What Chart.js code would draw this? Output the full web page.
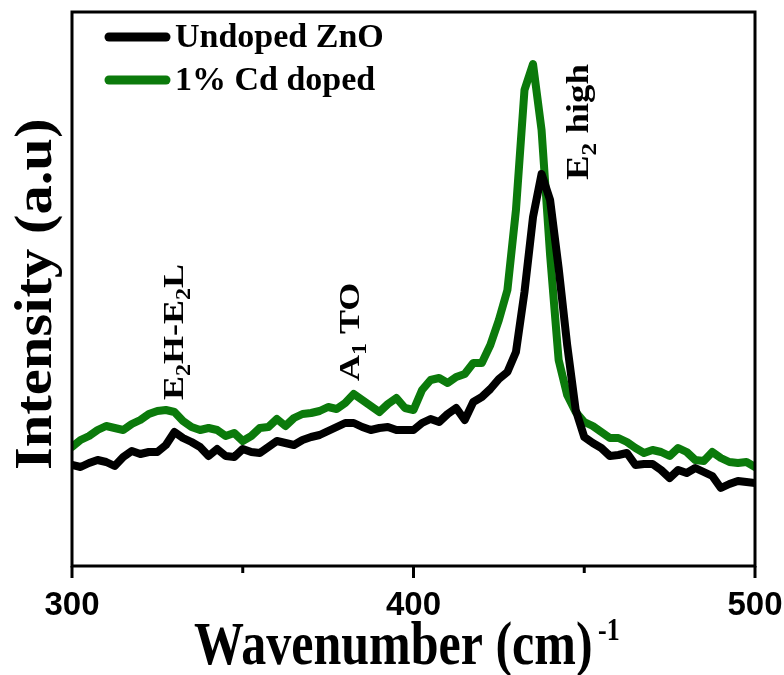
<!DOCTYPE html>
<html>
<head>
<meta charset="utf-8">
<script src="https://cdn.jsdelivr.net/npm/chart.js@4.4.1/dist/chart.umd.min.js"></script>
<style>
  html, body { margin: 0; padding: 0; background: #fff; }
</style>
</head>
<body>
<canvas id="chart" width="784" height="675"></canvas>
<script>
// Raman spectra, wavenumber in cm^-1, intensity in arbitrary units
const wavenumbers = [
  300, 302.5, 305, 307.5, 310, 312.5, 315, 317.5, 320, 322.5,
  325, 327.5, 330, 332.5, 335, 337.5, 340, 342.5, 345, 347.5,
  350, 352.5, 355, 357.5, 360, 362.5, 365, 367.5, 370, 372.5,
  375, 377.5, 380, 382.5, 385, 387.5, 390, 392.5, 395, 397.5,
  400, 402.5, 405, 407.5, 410, 412.5, 415, 417.5, 420, 422.5,
  425, 427.5, 430, 432.5, 435, 437.5, 440, 442.5, 445, 447.5,
  450, 452.5, 455, 457.5, 460, 462.5, 465, 467.5, 470, 472.5,
  475, 477.5, 480, 482.5, 485, 487.5, 490, 492.5, 495, 497.5, 500
];

const undopedZnO = [
  101, 99, 103, 106, 104, 100, 109, 115, 112, 114,
  114, 121, 134, 128, 124, 119, 110, 117, 110, 109,
  117, 114, 113, 119, 125, 123, 121, 126, 129, 131,
  135, 139, 143, 143, 139, 136, 138, 139, 136, 136,
  136, 143, 147, 144, 152, 158, 146, 164, 169, 177,
  187, 194, 214, 274, 349, 392, 366, 298, 221, 156,
  129, 123, 118, 110, 111, 113, 101, 102, 102, 96,
  88, 96, 93, 98, 94, 90, 78, 82, 85, 84, 83
];

const cdDoped = [
  119, 126, 130, 136, 140, 138, 136, 142, 146, 152,
  155, 156, 154, 145, 139, 136, 138, 136, 130, 133,
  125, 130, 138, 139, 147, 140, 148, 152, 153, 155,
  159, 157, 163, 172, 166, 160, 154, 162, 168, 158,
  156, 176, 186, 188, 183, 189, 192, 203, 203, 221,
  246, 276, 356, 476, 502, 436, 311, 206, 171, 154,
  144, 140, 134, 128, 128, 124, 118, 113, 116, 114,
  110, 118, 114, 106, 105, 114, 108, 104, 103, 104, 99
];

const xTicks = [300, 400, 500];
const xMinorTicks = [350, 450];

const serif = '"Liberation Serif", "Times New Roman", serif';
const sans = '"Liberation Sans", Arial, sans-serif';

// draw a run of text pieces (normal / subscript) with rotation;
// sx stretches along the text, sy across it (the figure is a bit stretched)
function drawRich(ctx, parts, x, y, angle, sx, sy) {
  ctx.save();
  ctx.translate(x, y);
  ctx.rotate(angle);
  ctx.scale(sx || 1, sy || 1);
  ctx.fillStyle = '#000';
  ctx.textAlign = 'left';
  ctx.textBaseline = 'alphabetic';
  let cx = 0;
  parts.forEach(p => {
    ctx.font = 'bold ' + p.size + 'px ' + serif;
    ctx.fillText(p.t, cx, p.dy || 0);
    cx += ctx.measureText(p.t).width;
  });
  ctx.restore();
}

const decorations = {
  id: 'decorations',
  afterDraw(chart) {
    const ctx = chart.ctx;
    const a = chart.chartArea;
    const xs = chart.scales.x;

    // frame
    ctx.save();
    ctx.strokeStyle = '#000';
    ctx.lineWidth = 3;
    ctx.strokeRect(a.left, a.top, a.right - a.left, a.bottom - a.top);

    // tick marks
    xTicks.forEach(v => {
      const px = xs.getPixelForValue(v);
      ctx.beginPath(); ctx.moveTo(px, a.bottom); ctx.lineTo(px, a.bottom + 12); ctx.stroke();
    });
    xMinorTicks.forEach(v => {
      const px = xs.getPixelForValue(v);
      ctx.beginPath(); ctx.moveTo(px, a.bottom); ctx.lineTo(px, a.bottom + 7); ctx.stroke();
    });

    // legend
    chart.data.datasets.forEach((ds, i) => {
      const y = 37 + i * 43;
      ctx.strokeStyle = ds.borderColor;
      ctx.lineWidth = 9;
      ctx.lineCap = 'round';
      ctx.beginPath(); ctx.moveTo(109, y); ctx.lineTo(166, y); ctx.stroke();
      ctx.fillStyle = '#000';
      ctx.font = 'bold 34px ' + serif;
      ctx.textBaseline = 'middle';
      ctx.fillText(ds.label, 175, y + 1);
    });
    ctx.restore();

    // axis titles
    drawRich(ctx, [{ t: 'Intensity (a.u)', size: 48 }], 51, 470, -Math.PI / 2, 1.22, 1.1);
    drawRich(ctx, [{ t: 'Wavenumber (cm)', size: 50 }], 194, 664, 0, 1, 1.22);
    drawRich(ctx, [{ t: '-1', size: 26 }], 598, 640, 0, 1, 1.2);

    // peak labels
    const rot = -Math.PI / 2;
    drawRich(ctx, [
      { t: 'E', size: 30 }, { t: '2', size: 20, dy: 7 }, { t: 'H-E', size: 30 },
      { t: '2', size: 20, dy: 7 }, { t: 'L', size: 30 }
    ], 183, 400, rot, 1.2, 1);
    drawRich(ctx, [
      { t: 'A', size: 30 }, { t: '1', size: 20, dy: 7 }, { t: ' TO', size: 30 }
    ], 359, 381, rot, 1.2, 1);
    drawRich(ctx, [
      { t: 'E', size: 32 }, { t: '2', size: 22, dy: 8 }, { t: ' high', size: 32 }
    ], 588, 180, rot, 1.15, 1);
  }
};

new Chart(document.getElementById('chart'), {
  type: 'line',
  data: {
    labels: wavenumbers,
    datasets: [
      {
        label: 'Undoped ZnO',
        data: undopedZnO,
        borderColor: '#000000',
        borderWidth: 8,
        pointRadius: 0,
        tension: 0,
        borderJoinStyle: 'round',
        borderCapStyle: 'round'
      },
      {
        label: '1% Cd doped',
        data: cdDoped,
        borderColor: '#0b7a0b',
        borderWidth: 8,
        pointRadius: 0,
        tension: 0,
        borderJoinStyle: 'round',
        borderCapStyle: 'round'
      }
    ]
  },
  options: {
    responsive: false,
    animation: false,
    layout: { padding: { top: 12, right: 29, left: 0, bottom: 0 } },
    plugins: {
      legend: { display: false },
      tooltip: { enabled: false }
    },
    scales: {
      x: {
        type: 'linear',
        min: 300,
        max: 500,
        afterFit(scale) {
          scale.height = 109;
          scale.paddingLeft = 0;
          scale.paddingRight = 0;
        },
        afterBuildTicks(scale) { scale.ticks = xTicks.map(v => ({ value: v })); },
        border: { display: false },
        grid: { display: false },
        ticks: {
          color: '#000',
          padding: 12,
          maxRotation: 0,
          font: { family: sans, size: 33, weight: 'bold' }
        }
      },
      y: {
        min: 0,
        max: 554,
        afterFit(scale) { scale.width = 72; },
        border: { display: false },
        grid: { display: false },
        ticks: { display: false }
      }
    }
  },
  plugins: [decorations]
});
</script>
</body>
</html>
